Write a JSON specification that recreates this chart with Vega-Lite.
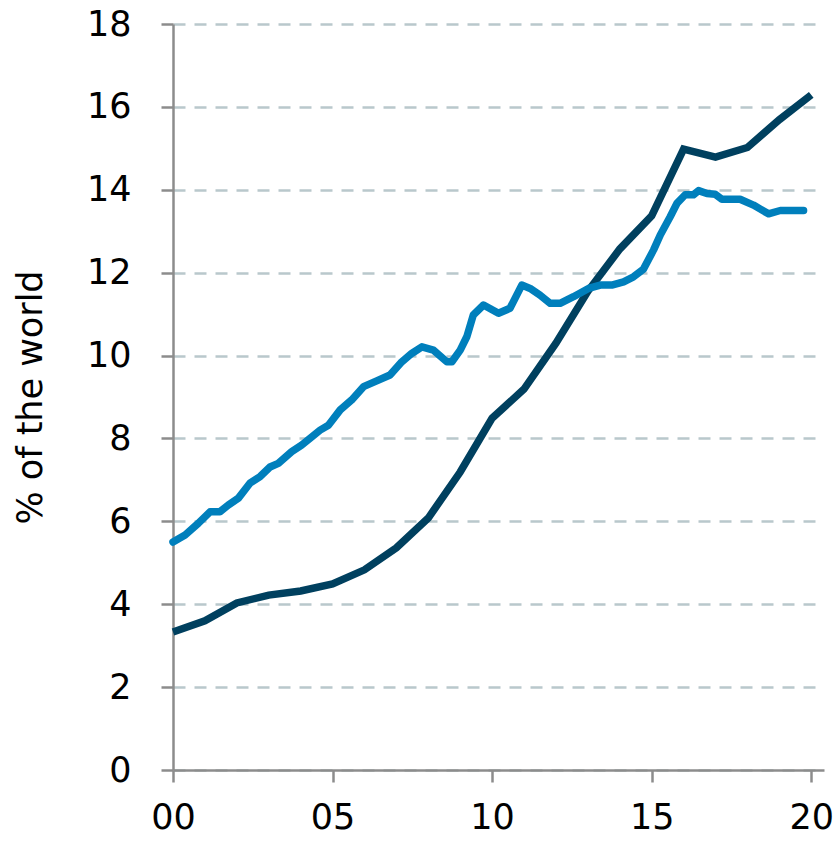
{
  "$schema": "https://vega.github.io/schema/vega-lite/v6.json",
  "autosize": {"type": "none"},
  "padding": {"left": 173, "top": 24, "right": 13, "bottom": 74},
  "width": 651,
  "height": 746,
  "background": "white",
  "config": {
    "view": {"stroke": null},
    "font": "DejaVu Sans",
    "axis": {
      "labelFont": "DejaVu Sans",
      "titleFont": "DejaVu Sans",
      "labelFontSize": 35,
      "titleFontSize": 35,
      "labelColor": "#000000",
      "titleColor": "#000000",
      "titleFontWeight": "normal",
      "domainColor": "#8c8c8c",
      "domainWidth": 2.5,
      "tickColor": "#8c8c8c",
      "tickWidth": 2.5,
      "tickSize": 12
    }
  },
  "datasets": {
    "dark": [
      {"year": 2000, "value": 3.33},
      {"year": 2001, "value": 3.6},
      {"year": 2002, "value": 4.03},
      {"year": 2003, "value": 4.22},
      {"year": 2004, "value": 4.32},
      {"year": 2005, "value": 4.49},
      {"year": 2006, "value": 4.83},
      {"year": 2007, "value": 5.36},
      {"year": 2008, "value": 6.08},
      {"year": 2009, "value": 7.19},
      {"year": 2010, "value": 8.49},
      {"year": 2011, "value": 9.19},
      {"year": 2012, "value": 10.3},
      {"year": 2013, "value": 11.55},
      {"year": 2014, "value": 12.57},
      {"year": 2015, "value": 13.37},
      {"year": 2016, "value": 14.98},
      {"year": 2017, "value": 14.79},
      {"year": 2018, "value": 15.02},
      {"year": 2019, "value": 15.69},
      {"year": 2020, "value": 16.29}
    ],
    "light": [
      {"year": 2000.0, "value": 5.5},
      {"year": 2000.38, "value": 5.67},
      {"year": 2000.79, "value": 5.95},
      {"year": 2001.16, "value": 6.23},
      {"year": 2001.47, "value": 6.23},
      {"year": 2001.73, "value": 6.39},
      {"year": 2002.05, "value": 6.56},
      {"year": 2002.41, "value": 6.92},
      {"year": 2002.73, "value": 7.08},
      {"year": 2003.04, "value": 7.31},
      {"year": 2003.3, "value": 7.4},
      {"year": 2003.72, "value": 7.68},
      {"year": 2004.03, "value": 7.84},
      {"year": 2004.35, "value": 8.04},
      {"year": 2004.61, "value": 8.2},
      {"year": 2004.87, "value": 8.32},
      {"year": 2005.24, "value": 8.69},
      {"year": 2005.6, "value": 8.93},
      {"year": 2005.97, "value": 9.25},
      {"year": 2006.33, "value": 9.37},
      {"year": 2006.8, "value": 9.53},
      {"year": 2007.17, "value": 9.85},
      {"year": 2007.48, "value": 10.05},
      {"year": 2007.8, "value": 10.21},
      {"year": 2008.16, "value": 10.13},
      {"year": 2008.58, "value": 9.85},
      {"year": 2008.74, "value": 9.85},
      {"year": 2009.0, "value": 10.13},
      {"year": 2009.21, "value": 10.46},
      {"year": 2009.41, "value": 10.98},
      {"year": 2009.73, "value": 11.22},
      {"year": 2010.2, "value": 11.02},
      {"year": 2010.56, "value": 11.14},
      {"year": 2010.93, "value": 11.7},
      {"year": 2011.19, "value": 11.62},
      {"year": 2011.5, "value": 11.46},
      {"year": 2011.82, "value": 11.26},
      {"year": 2012.13, "value": 11.26},
      {"year": 2012.55, "value": 11.42},
      {"year": 2013.02, "value": 11.62},
      {"year": 2013.39, "value": 11.7},
      {"year": 2013.75, "value": 11.7},
      {"year": 2014.12, "value": 11.78},
      {"year": 2014.43, "value": 11.9},
      {"year": 2014.74, "value": 12.08},
      {"year": 2015.06, "value": 12.55},
      {"year": 2015.27, "value": 12.91},
      {"year": 2015.58, "value": 13.35},
      {"year": 2015.79, "value": 13.67},
      {"year": 2016.05, "value": 13.88},
      {"year": 2016.31, "value": 13.88},
      {"year": 2016.47, "value": 13.98},
      {"year": 2016.73, "value": 13.91},
      {"year": 2016.99, "value": 13.89},
      {"year": 2017.2, "value": 13.77},
      {"year": 2017.77, "value": 13.77},
      {"year": 2018.19, "value": 13.63},
      {"year": 2018.66, "value": 13.42},
      {"year": 2019.03, "value": 13.5},
      {"year": 2019.76, "value": 13.5}
    ]
  },
  "encoding": {
    "x": {
      "field": "year",
      "type": "quantitative",
      "scale": {"domain": [2000, 2020.4], "nice": false, "zero": false},
      "axis": {
        "title": null,
        "values": [2000, 2005, 2010, 2015, 2020],
        "labelExpr": "substring(toString(datum.value), 2)",
        "grid": false,
        "labelPadding": 18,
        "labelFlush": false,
        "labelOverlap": false
      }
    },
    "y": {
      "field": "value",
      "type": "quantitative",
      "scale": {"domain": [0, 18], "nice": false},
      "axis": {
        "title": "% of the world",
        "values": [0, 2, 4, 6, 8, 10, 12, 14, 16, 18],
        "grid": true,
        "gridColor": "#b9c8cc",
        "gridWidth": 2.5,
        "gridDash": [12, 9],
        "labelPadding": 30,
        "titlePadding": 38,
        "labelOverlap": false
      }
    }
  },
  "layer": [
    {
      "data": {"name": "dark"},
      "mark": {"type": "line", "color": "#00405f", "strokeWidth": 7.5, "strokeJoin": "miter", "strokeCap": "butt"}
    },
    {
      "data": {"name": "light"},
      "mark": {"type": "line", "color": "#007fbc", "strokeWidth": 7.5, "strokeJoin": "round", "strokeCap": "round"}
    }
  ]
}
